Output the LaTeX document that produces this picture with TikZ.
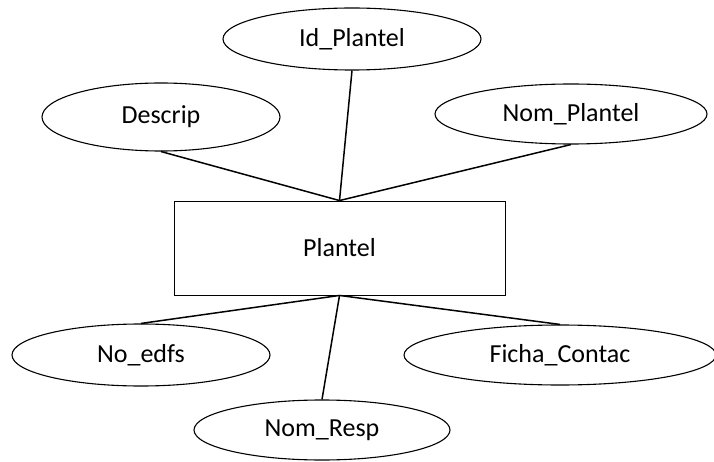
\documentclass[tikz,border=0pt]{standalone}
\usepackage{fontspec}
\setmainfont{Carlito}
\usetikzlibrary{shapes.geometric}
\begin{document}
\begin{tikzpicture}[x=1pt,y=-1pt,
  attr/.style={draw, ellipse, inner sep=0pt, line width=1.1pt,
               font=\fontsize{26}{30}\selectfont},
  entity/.style={draw, rectangle, inner sep=0pt, line width=0.9pt,
                 minimum width=331pt, minimum height=94pt,
                 font=\fontsize{26}{30}\selectfont},
  link/.style={line width=1.5pt}]
\useasboundingbox (0,0) rectangle (714,462);

% entity
\node[entity] (ent) at (339.5,248) {Plantel};

% attributes above
\node[attr, minimum width=258pt, minimum height=62pt] (id)   at (352,39)  {Id\_Plantel};
\node[attr, minimum width=238pt, minimum height=68pt] (desc) at (161,117) {Descrip};
\node[attr, minimum width=272pt, minimum height=60pt] (nomp) at (571,114) {Nom\_Plantel};

% attributes below
\node[attr, minimum width=258pt, minimum height=62pt] (edfs)  at (141,355) {No\_edfs};
\node[attr, minimum width=256pt, minimum height=60pt] (resp)  at (322,430) {Nom\_Resp};
\node[attr, minimum width=312pt, minimum height=60pt] (ficha) at (560,355) {Ficha\_Contac};

% connectors
\draw[link] (id.south)   -- (ent.north);
\draw[link] (desc.south) -- (ent.north);
\draw[link] (nomp.south) -- (ent.north);
\draw[link] (ent.south)  -- (edfs.north);
\draw[link] (ent.south)  -- (resp.north);
\draw[link] (ent.south)  -- (ficha.north);
\end{tikzpicture}
\end{document}
